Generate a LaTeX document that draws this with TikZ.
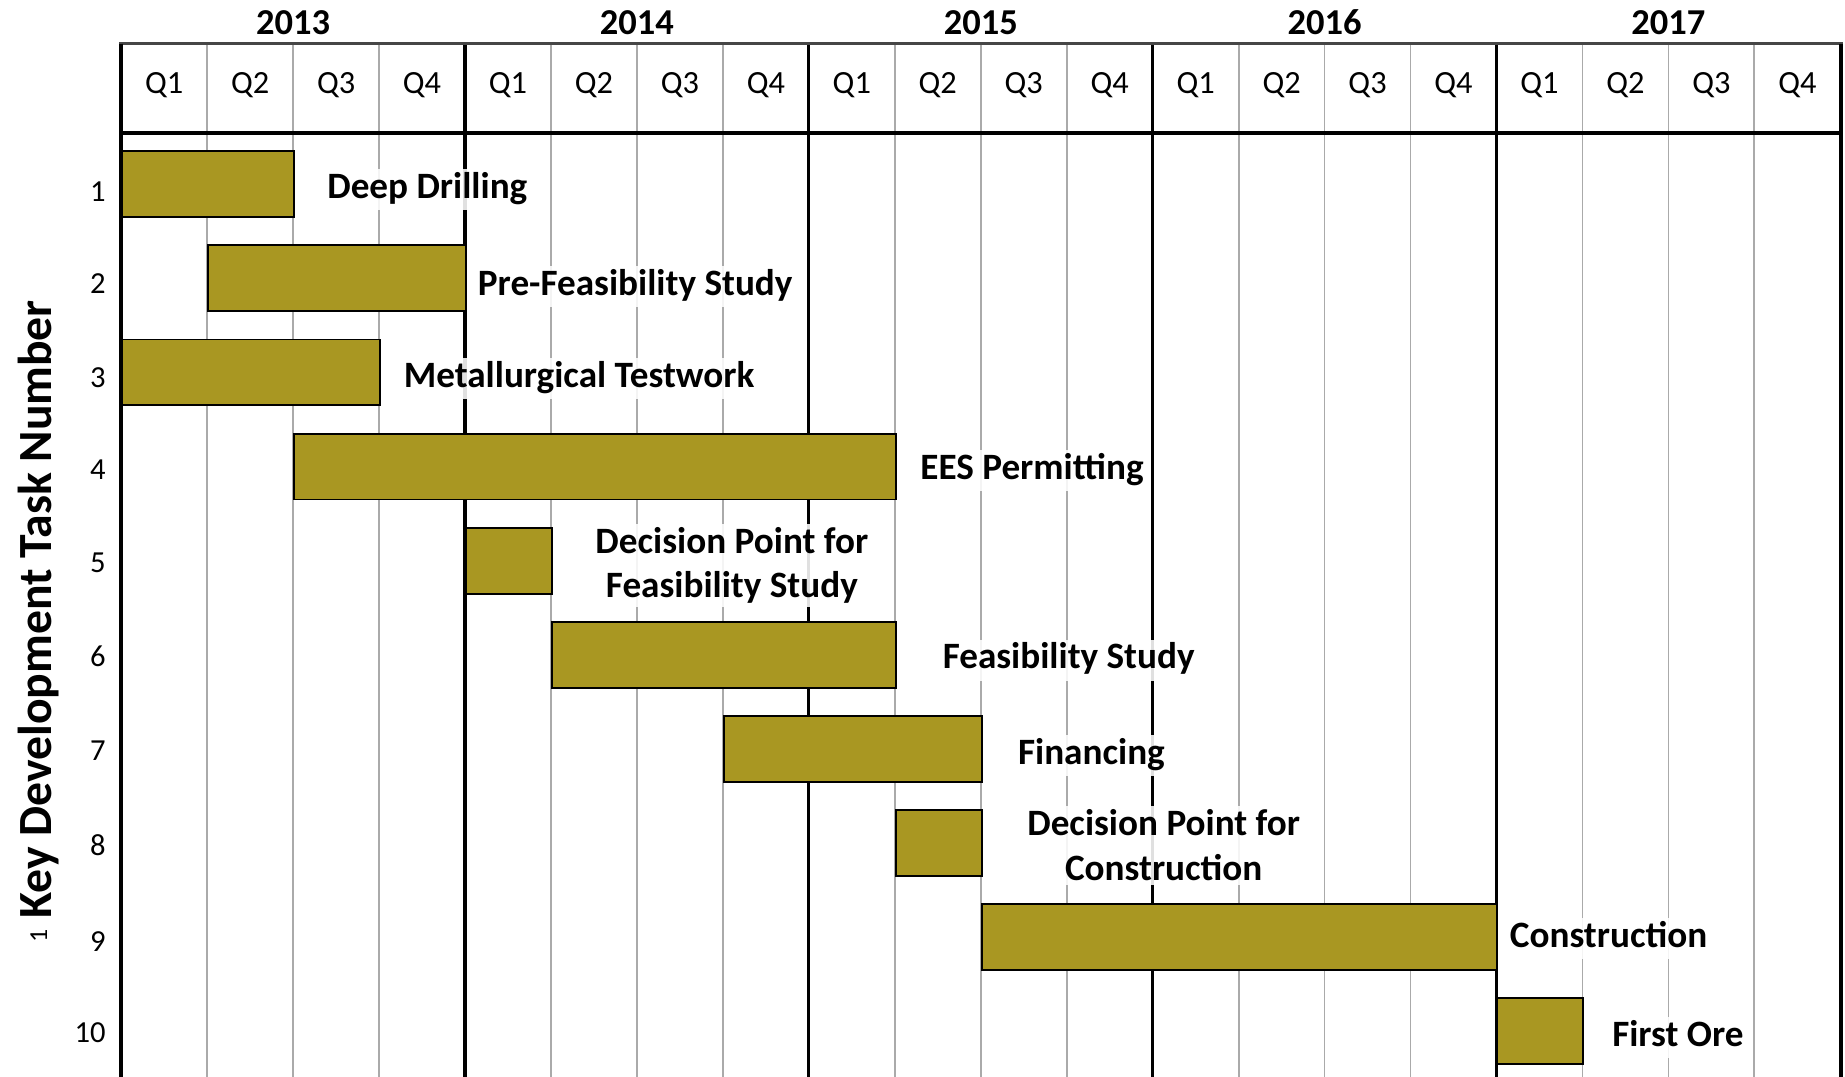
\documentclass[tikz,border=0pt]{standalone}
\usepackage{fontspec}
\setmainfont{Carlito}
\definecolor{barcol}{RGB}{169,151,34}
\definecolor{gridgray}{RGB}{170,170,170}
\definecolor{topgray}{RGB}{70,70,70}
\begin{document}
\begin{tikzpicture}[x=1pt,y=-1pt,
  bar/.style={draw=black, line width=1.6pt, fill=barcol, inner sep=0pt, anchor=west, minimum height=56pt},
  lbl/.style={font=\bfseries\fontsize{31.6}{38}\selectfont, fill=white, fill opacity=0.88, text opacity=1, inner sep=3pt, text height=22pt, text depth=7pt},
  lbltwo/.style={font=\bfseries\fontsize{31.6}{38}\selectfont, fill=white, fill opacity=0.88, text opacity=1, inner sep=3pt, align=center},
  qlbl/.style={font=\fontsize{27.5}{27.5}\selectfont, inner sep=0pt},
  yearlbl/.style={font=\bfseries\fontsize{31}{31}\selectfont, inner sep=0pt},
  rowlbl/.style={font=\fontsize{26}{26}\selectfont, inner sep=0pt, anchor=east},
  qline/.style={draw=gridgray, line width=1.5pt},
  yline/.style={draw=black, line width=2.6pt}
]
\useasboundingbox[fill=white] (0,0) rectangle (1568,915);
\def\xo{103}
\def\qw{73.05}
% grid lines
\foreach \k in {1,2,3,5,6,7,9,10,11,13,14,15,17,18,19}{
  \draw[qline] ({\xo+\k*\qw},37) -- ({\xo+\k*\qw},915);
}
\foreach \k in {4,8,12,16}{
  \draw[yline] ({\xo+\k*\qw},37) -- ({\xo+\k*\qw},915);
}
% header labels
\foreach \y [count=\j from 0] in {2013,2014,2015,2016,2017}{
  \node[yearlbl] (y\y) at ({\xo+(4*\j+2)*\qw},19) {\y};
  \foreach \q in {1,2,3,4}{
    \node[qlbl] (q\y-\q) at ({\xo+(4*\j+\q-0.5)*\qw},72) {Q\q};
  }
}
% row numbers
\foreach \r/\yy in {1/163, 2/241, 3/321, 4/399, 5/478, 6/558, 7/638, 8/718, 9/800, 10/878}{
  \node[rowlbl] (r\r) at (90,\yy) {\r};
}
% bars
\foreach \r/\s/\e in {1/0/2, 2/1/4, 3/0/3, 4/2/9, 5/4/5, 6/5/9, 7/7/10, 8/9/10, 9/10/16, 10/16/17}{
  \node[bar, minimum width={(\e-\s)*\qw*1pt}] (b\r) at ({\xo+\s*\qw},{156.5+80*(\r-1)}) {};
}
% labels
\node[lbl, anchor=west] (l1) at (275,161) {Deep Drilling};
\node[lbl, anchor=west] (l2) at (403,243.5) {Pre-Feasibility Study};
\node[lbl, anchor=west] (l3) at (340,321.5) {Metallurgical Testwork};
\node[lbl, anchor=west] (l4) at (779,400) {EES Permitting};
\node[lbltwo] (l5) at (622,480.5) {Decision Point for\\Feasibility Study};
\node[lbl, anchor=west] (l6) at (798,561) {Feasibility Study};
\node[lbl, anchor=west] (l7) at (862,642) {Financing};
\node[lbltwo] (l8) at (989,718.5) {Decision Point for\\Construction};
\node[lbl, anchor=west] (l9) at (1280,797.5) {Construction};
\node[lbl, anchor=west] (l10) at (1367,882) {First Ore};
% frame lines
\draw[draw=topgray, line width=2.5pt] (101.5,37) -- (1566,37);
\draw[draw=black, line width=4pt] (103,113) -- (1566,113);
\draw[draw=black, line width=3pt] (103,37) -- (103,915);
\draw[draw=black, line width=3pt] (1564.5,37) -- (1564.5,915);
% axis title
\node[rotate=90, font=\bfseries\fontsize{40.5}{40.5}\selectfont, inner sep=0pt] (axis) at (33,528)
  {\raisebox{4pt}{\mdseries\fontsize{22}{22}\selectfont 1}\ Key Development Task Number};
\end{tikzpicture}
\end{document}
